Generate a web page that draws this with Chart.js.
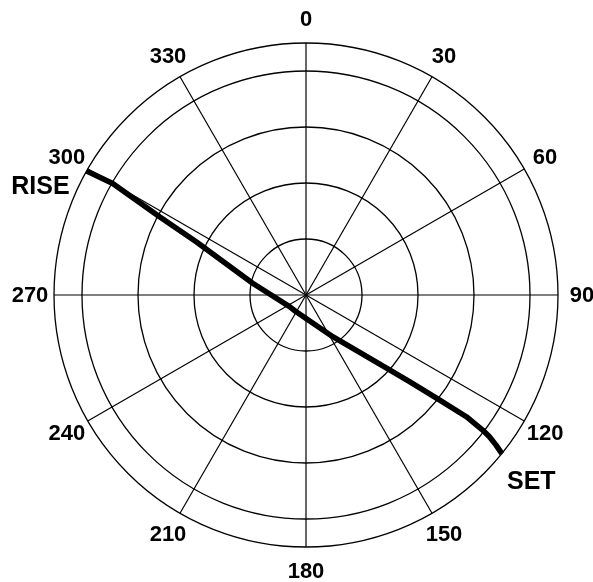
<!DOCTYPE html>
<html>
<head>
<meta charset="utf-8">
<script src="https://cdn.jsdelivr.net/npm/chart.js@4/dist/chart.umd.min.js"></script>
<style>
html,body{margin:0;padding:0;background:#fff;}
#wrap{width:593px;height:582px;position:relative;}
</style>
</head>
<body>
<div id="wrap"><canvas id="c"></canvas></div>
<script>
// Azimuth spoke labels (degrees, clockwise from north)
const azimuthLabels = ['0','30','60','90','120','150','180','210','240','270','300','330'];
// Ring positions as zenith distance (90 - elevation): rings at elevation 90(center),70,50,30,10,0(rim)
const ringZenith = [0, 20, 40, 60, 80, 90];
// Satellite pass track
const passAzimuth   = [299.5, 300.0, 298.1, 295.9, 282.4, 234.7, 213.0, 147.3, 131.9, 129.9, 128.2, 127.2, 127.4, 127.7, 128.3, 129.0];
const passElevation = [0.0,   10.3,  30.7,  46.4,  70.5,  82.8,  83.1,  72.3,  49.9,  41.8,  29.4,  18.1,  10.6,  7.2,   3.5,   0.0];
const passNotes = ['RISE', 'SET'];

const FONT = "'Liberation Sans', Arial, Helvetica, sans-serif";

const skyPlot = {
  id: 'skyPlot',
  beforeDraw(chart) {
    const ctx = chart.ctx;
    ctx.save();
    ctx.fillStyle = '#fff';
    ctx.fillRect(0, 0, chart.width, chart.height);
    ctx.restore();
  },
  afterDatasetsDraw(chart) {
    const s = chart.scales.r;
    const ctx = chart.ctx;
    const step = 360 / azimuthLabels.length;
    ctx.save();
    // pass track
    ctx.beginPath();
    passAzimuth.forEach((az, i) => {
      const p = s.getPointPositionForValue(az / step, 90 - passElevation[i]);
      if (i === 0) ctx.moveTo(p.x, p.y); else ctx.lineTo(p.x, p.y);
    });
    ctx.lineWidth = 5.5;
    ctx.strokeStyle = '#000';
    ctx.lineJoin = 'round';
    ctx.lineCap = 'butt';
    ctx.stroke();

    // azimuth labels
    ctx.fillStyle = '#000';
    ctx.textAlign = 'center';
    ctx.textBaseline = 'middle';
    ctx.font = 'bold 22px ' + FONT;
    azimuthLabels.forEach((lab, i) => {
      const p = s.getPointPosition(i, s.drawingArea + 24);
      ctx.fillText(lab, p.x, p.y + 1);
    });

    // RISE / SET notes
    ctx.font = 'bold 25px ' + FONT;
    const last = passAzimuth.length - 1;
    const rp = s.getPointPosition((passAzimuth[0] - 7.2) / step, s.drawingArea + 35);
    ctx.fillText(passNotes[0], rp.x, rp.y + 1);
    const sp = s.getPointPosition((passAzimuth[last] + 0.5) / step, s.drawingArea + 40);
    ctx.fillText(passNotes[1], sp.x, sp.y + 1);
    ctx.restore();
  }
};

new Chart(document.getElementById('c'), {
  type: 'radar',
  data: {
    labels: azimuthLabels,
    datasets: [{ data: [], borderWidth: 0, pointRadius: 0 }]
  },
  options: {
    responsive: true,
    maintainAspectRatio: false,
    animation: false,
    layout: { padding: { left: 54, right: 35, top: 43, bottom: 35 } },
    plugins: { legend: { display: false }, tooltip: { enabled: false } },
    scales: {
      r: {
        min: 0,
        max: 90,
        startAngle: 0,
        afterBuildTicks: (sc) => { sc.ticks = ringZenith.map(v => ({ value: v })); },
        ticks: { display: false },
        pointLabels: { display: false },
        grid: { circular: true, color: '#000', lineWidth: 1.3 },
        angleLines: { display: true, color: '#000', lineWidth: 1.2 }
      }
    }
  },
  plugins: [skyPlot]
});
</script>
</body>
</html>
